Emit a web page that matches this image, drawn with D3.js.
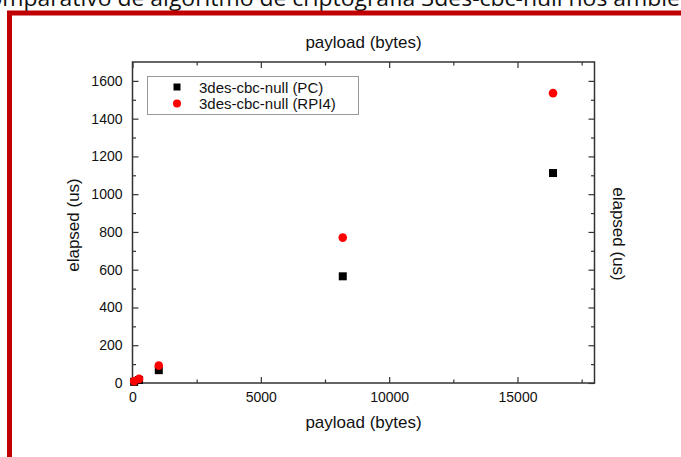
<!DOCTYPE html>
<html><head><meta charset="utf-8">
<script src="https://cdn.jsdelivr.net/npm/d3@7"></script>
<style>body{margin:0;background:#fff;}svg{display:block;font-family:"Liberation Sans",Arial,sans-serif;}</style>
</head><body>
<script>
const payloads = [64, 256, 1024, 8192, 16384];
const pcValues = [6, 16, 68, 565, 1112];
const rpiValues = [10, 22, 92, 770, 1535];
const seriesNames = ["3des-cbc-null (PC)", "3des-cbc-null (RPI4)"];
const xTicks = [0, 5000, 10000, 15000];
const yTicks = [0, 200, 400, 600, 800, 1000, 1200, 1400, 1600];
const xMinor = [2500, 7500, 12500, 17500];
const yMinor = [100, 300, 500, 700, 900, 1100, 1300, 1500];
const pageTitle = "Comparativo de algoritmo de criptografia 3des-cbc-null nos ambientes";
const xTitle = "payload (bytes)";
const yTitle = "elapsed (us)";

const W = 681, H = 457;
const svg = d3.select("body").append("svg").attr("width", W).attr("height", H);

// page heading (clipped at top, as in the document screenshot) and red frame
svg.append("text").attr("x", -26).attr("y", 6).attr("font-family", "'Open Sans', sans-serif")
  .attr("font-size", 21).attr("fill", "#111")
  .attr("textLength", 752).attr("lengthAdjust", "spacingAndGlyphs").text(pageTitle);
svg.append("rect").attr("x", 9.5).attr("y", 13).attr("width", W).attr("height", H)
  .attr("fill", "none").attr("stroke", "#c00000").attr("stroke-width", 5);

const x = d3.scaleLinear().domain([0, 18000]).range([132.5, 594.5]);
const y = d3.scaleLinear().domain([0, 1700]).range([383, 62]);
const axisColor = "#333";

const g = svg.append("g");
g.append("rect").attr("x", x(0)).attr("y", y(1700)).attr("width", x(18000) - x(0)).attr("height", y(0) - y(1700))
  .attr("fill", "none").attr("stroke", axisColor).attr("stroke-width", 1.5);

function styleAxis(sel) {
  sel.select(".domain").remove();
  sel.selectAll("line").attr("stroke", axisColor).attr("stroke-width", 1.2);
  sel.selectAll("text").attr("fill", "#111").attr("font-size", 14);
}
g.append("g").attr("transform", `translate(0,${y(0)})`)
  .call(d3.axisBottom(x).tickValues(xTicks).tickSize(-6).tickPadding(9).tickFormat(d3.format("d"))).call(styleAxis);
g.append("g").attr("transform", `translate(0,${y(0)})`)
  .call(d3.axisBottom(x).tickValues(xMinor).tickSize(-3.5).tickFormat("")).call(styleAxis);
g.append("g").attr("transform", `translate(0,${y(1700)})`)
  .call(d3.axisTop(x).tickValues(xTicks).tickSize(-6).tickFormat("")).call(styleAxis);
g.append("g").attr("transform", `translate(0,${y(1700)})`)
  .call(d3.axisTop(x).tickValues(xMinor).tickSize(-3.5).tickFormat("")).call(styleAxis);
g.append("g").attr("transform", `translate(${x(0)},0)`)
  .call(d3.axisLeft(y).tickValues(yTicks).tickSize(-6).tickPadding(10).tickFormat(d3.format("d"))).call(styleAxis);
g.append("g").attr("transform", `translate(${x(0)},0)`)
  .call(d3.axisLeft(y).tickValues(yMinor).tickSize(-3.5).tickFormat("")).call(styleAxis);
g.append("g").attr("transform", `translate(${x(18000)},0)`)
  .call(d3.axisRight(y).tickValues(yTicks).tickSize(-6).tickFormat("")).call(styleAxis);
g.append("g").attr("transform", `translate(${x(18000)},0)`)
  .call(d3.axisRight(y).tickValues(yMinor).tickSize(-3.5).tickFormat("")).call(styleAxis);

const cx = (x(0) + x(18000)) / 2;
svg.append("text").attr("x", cx).attr("y", 428).attr("text-anchor", "middle").attr("font-size", 17).attr("fill", "#111").text(xTitle);
svg.append("text").attr("x", cx).attr("y", 48).attr("text-anchor", "middle").attr("font-size", 17).attr("fill", "#111").text(xTitle);
svg.append("text").attr("transform", `translate(79,225) rotate(-90)`).attr("text-anchor", "middle").attr("font-size", 17).attr("fill", "#111").text(yTitle);
svg.append("text").attr("transform", `translate(613,234) rotate(90)`).attr("text-anchor", "middle").attr("font-size", 17).attr("fill", "#111").text(yTitle);

const pcData = payloads.map((p, i) => ({p, v: pcValues[i]}));
const rpiData = payloads.map((p, i) => ({p, v: rpiValues[i]}));
g.selectAll(".pc").data(pcData).enter().append("rect")
  .attr("x", d => x(d.p) - 4).attr("y", d => y(d.v) - 4).attr("width", 8).attr("height", 8).attr("fill", "#000");
g.selectAll(".rpi").data(rpiData).enter().append("circle")
  .attr("cx", d => x(d.p)).attr("cy", d => y(d.v)).attr("r", 4.3).attr("fill", "#ff0000");

const lg = svg.append("g");
lg.append("rect").attr("x", 147.5).attr("y", 76.5).attr("width", 211).attr("height", 38)
  .attr("fill", "#fff").attr("stroke", "#999").attr("stroke-width", 1);
lg.append("rect").attr("x", 173.5).attr("y", 83.5).attr("width", 7).attr("height", 7).attr("fill", "#000");
lg.append("circle").attr("cx", 177).attr("cy", 103.5).attr("r", 4).attr("fill", "#ff0000");
lg.append("text").attr("x", 199).attr("y", 92.5).attr("font-size", 15).attr("fill", "#111").text(seriesNames[0]);
lg.append("text").attr("x", 199).attr("y", 108.5).attr("font-size", 15).attr("fill", "#111").text(seriesNames[1]);
</script>
</body></html>
